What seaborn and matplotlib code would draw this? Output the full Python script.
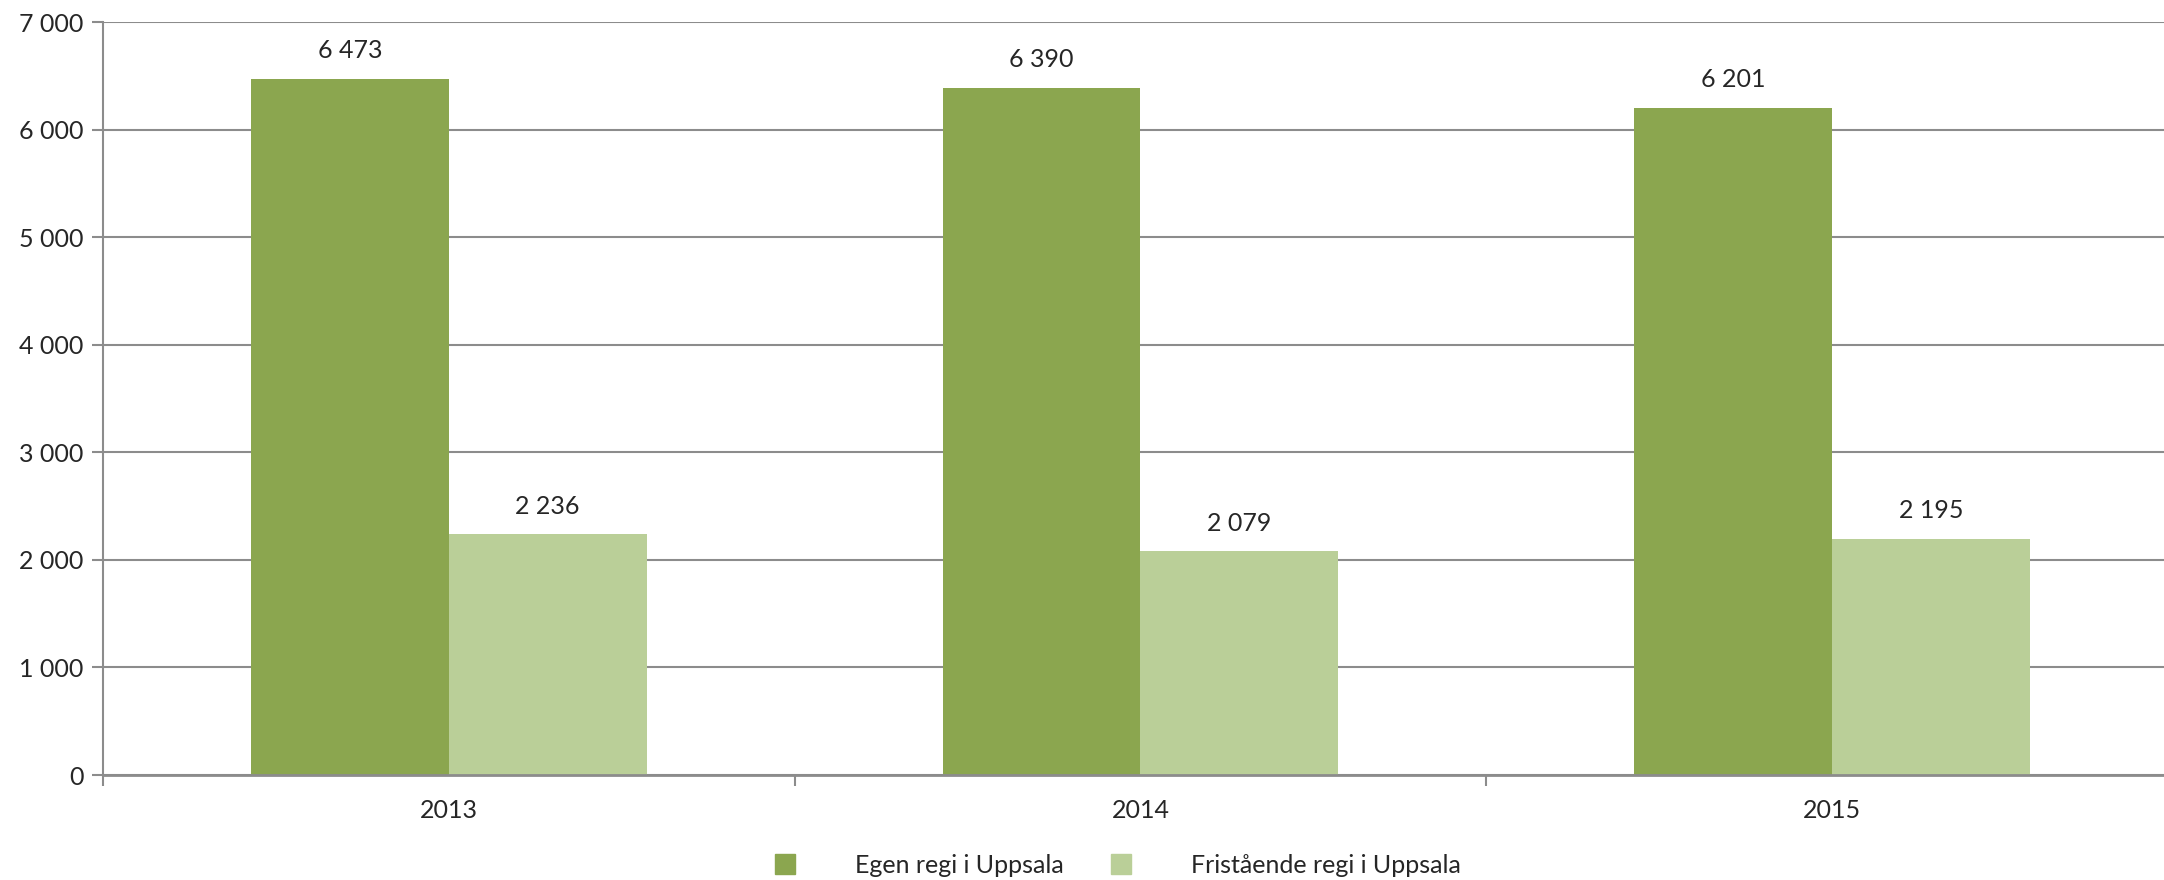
import matplotlib
matplotlib.use("Agg")
import matplotlib.pyplot as plt
import seaborn as sns
import pandas as pd
from matplotlib.ticker import FuncFormatter, FixedLocator
from matplotlib.lines import Line2D

years = ["2013", "2014", "2015"]
series_names = ["Egen regi i Uppsala", "Fristående regi i Uppsala"]
egen = [6473, 6390, 6201]
fristaende = [2236, 2079, 2195]
colors = ["#8BA64F", "#BACF98"]

df = pd.DataFrame({
    "year": years * 2,
    "serie": [series_names[0]] * 3 + [series_names[1]] * 3,
    "value": egen + fristaende,
})

sns.set_theme(style="white")
plt.rcParams["font.family"] = ["Lato", "DejaVu Sans"]

fig = plt.figure(figsize=(21.64, 8.8), dpi=100)
ax = fig.add_axes([0.0476, 0.1193, 0.9524, 0.8557])

sns.barplot(data=df, x="year", y="value", hue="serie", palette=colors,
            width=0.572, gap=0, ax=ax, legend=False, saturation=1,
            edgecolor="none", linewidth=0)

ax.set_ylim(0, 7000)
ax.set_xlim(-0.5, 2.48)
ax.set_yticks(range(0, 7001, 1000))
ax.yaxis.set_major_formatter(FuncFormatter(lambda v, p: f"{int(v):,}".replace(",", " ")))
ax.grid(axis="y", color="#8c8c8c", linewidth=1.5)
ax.set_axisbelow(True)
for s in ["top", "right"]:
    ax.spines[s].set_visible(False)
ax.spines["left"].set_color("#8c8c8c")
ax.spines["left"].set_linewidth(1.5)
ax.spines["bottom"].set_color("#8c8c8c")
ax.spines["bottom"].set_linewidth(2)
ax.tick_params(axis="y", which="major", left=True, length=8, width=1.5, color="#8c8c8c",
               labelsize=18, pad=6)
ax.tick_params(axis="x", which="major", bottom=False, labelsize=18, pad=11)
ax.xaxis.set_minor_locator(FixedLocator([-0.5, 0.5, 1.5, 2.5]))
ax.tick_params(axis="x", which="minor", bottom=True, length=8, width=1.5, color="#8c8c8c")
ax.set_xlabel("")
ax.set_ylabel("")

for cont in ax.containers:
    ax.bar_label(cont, labels=[f"{int(v):,}".replace(",", " ") for v in cont.datavalues],
                 padding=12, fontsize=18)

handles = [Line2D([0], [0], marker="s", linestyle="none", markersize=14,
                  markerfacecolor=c, markeredgecolor=c) for c in colors]
fig.legend(handles, series_names, loc="center", bbox_to_anchor=(0.513, 0.017),
           ncol=2, frameon=False, fontsize=18, handletextpad=1.8, columnspacing=1.3)

fig.savefig("out.png", dpi=100)
